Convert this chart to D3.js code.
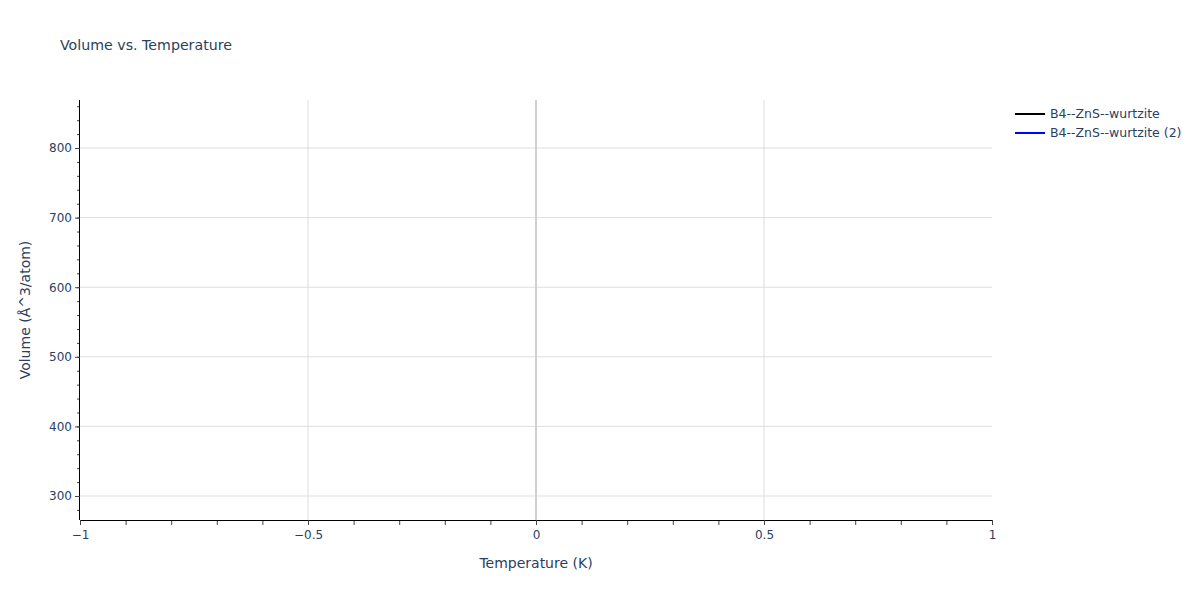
<!DOCTYPE html>
<html>
<head>
<meta charset="utf-8">
<script src="https://cdn.jsdelivr.net/npm/d3@7"></script>
<style>
body{margin:0;background:#fff;font-family:"DejaVu Sans",Verdana,sans-serif;}
text{fill:#2a3f5f;}
</style>
</head>
<body>
<script>
// series names and (empty) data as in the reference
var seriesNames = ["B4--ZnS--wurtzite","B4--ZnS--wurtzite (2)"];
var seriesColors = ["#000000","#0000ff"];
var temps1 = [], vols1 = [];
var temps2 = [], vols2 = [];
var xTicks = [-1,-0.5,0,0.5,1];
var yTicks = [300,400,500,600,700,800];

var width = 1200, height = 600;
var margins = {top:100,bottom:80,left:80,right:208};
var fontFam = "DejaVu Sans, Verdana, sans-serif";

var svg = d3.select("body").append("svg")
  .attr("width",width).attr("height",height)
  .attr("font-family",fontFam);

var w = width - margins.left - margins.right;
var h = height - margins.top - margins.bottom;

var xScale = d3.scaleLinear().domain([-1,1]).range([0,w]);
var yScale = d3.scaleLinear().domain([265.5,869]).range([h,0]);

var g = svg.append("g").attr("transform","translate("+margins.left+","+margins.top+")");

// grid
g.selectAll(".hgrid").data(yTicks).enter().append("line")
  .attr("x1",0).attr("x2",w)
  .attr("y1",function(d){return yScale(d);}).attr("y2",function(d){return yScale(d);})
  .attr("stroke","#dedede").attr("stroke-width",1);
g.selectAll(".vgrid").data(xTicks.filter(function(d){return d>-1 && d<1;})).enter().append("line")
  .attr("y1",0).attr("y2",h)
  .attr("x1",function(d){return xScale(d);}).attr("x2",function(d){return xScale(d);})
  .attr("stroke",function(d){return d===0?"#d0d0d0":"#dedede";})
  .attr("stroke-width",function(d){return d===0?2:1;});

// lines
var line = d3.line().x(function(d){return xScale(d[0]);}).y(function(d){return yScale(d[1]);});
[[temps1,vols1],[temps2,vols2]].forEach(function(s,i){
  g.append("path").datum(d3.zip(s[0],s[1]))
    .attr("d",line).attr("fill","none")
    .attr("stroke",seriesColors[i]).attr("stroke-width",2);
});

// minor ticks
var xMinor = d3.range(-10,11).map(function(d){return d/10;});
var yMinor = d3.range(280,870,20);
g.append("g").attr("transform","translate(0,"+h+")")
  .call(d3.axisBottom(xScale).tickValues(xMinor).tickSize(5).tickFormat(""))
  .call(function(a){a.select(".domain").remove();a.selectAll("line").attr("stroke","#444");});
g.append("g")
  .call(d3.axisLeft(yScale).tickValues(yMinor).tickSize(3).tickFormat(""))
  .call(function(a){a.select(".domain").remove();a.selectAll("line").attr("stroke","#444");});

// axes
var xAxis = d3.axisBottom(xScale).tickValues(xTicks).tickSize(5).tickPadding(5)
  .tickFormat(function(d){return d===0?"0":d3.format("")(d).replace("-","\u2212");});
var yAxis = d3.axisLeft(yScale).tickValues(yTicks).tickSize(5).tickPadding(3);

g.append("g").attr("transform","translate(0,"+h+")").call(xAxis)
  .call(function(a){
    a.select(".domain").attr("d","M0,0.5H"+w).attr("stroke","#000");
    a.selectAll("line").attr("stroke","#444");
    a.selectAll("text").attr("font-size",12).attr("font-family",fontFam).style("fill","#2a3f5f");
  });
g.append("g").call(yAxis)
  .call(function(a){
    a.select(".domain").attr("d","M-0.5,0V"+h).attr("stroke","#000");
    a.selectAll("line").attr("stroke","#444");
    a.selectAll("text").attr("font-size",12).attr("font-family",fontFam).style("fill","#2a3f5f");
  });

// titles
svg.append("text").attr("x",60).attr("y",50).attr("font-size",14.2)
  .text("Volume vs. Temperature");
svg.append("text").attr("x",margins.left+w/2).attr("y",568).attr("text-anchor","middle")
  .attr("font-size",14).text("Temperature (K)");
svg.append("text").attr("transform","translate(30,"+(margins.top+h/2)+") rotate(-90)")
  .attr("text-anchor","middle").attr("font-size",14).text("Volume (Å^3/atom)");

// legend
var legend = svg.append("g").attr("transform","translate(1015,114)");
seriesNames.forEach(function(n,i){
  legend.append("line").attr("x1",0).attr("x2",30).attr("y1",i*19).attr("y2",i*19)
    .attr("stroke",seriesColors[i]).attr("stroke-width",2);
  legend.append("text").attr("x",35).attr("y",i*19+4).attr("font-size",12.5).text(n);
});
</script>
</body>
</html>
